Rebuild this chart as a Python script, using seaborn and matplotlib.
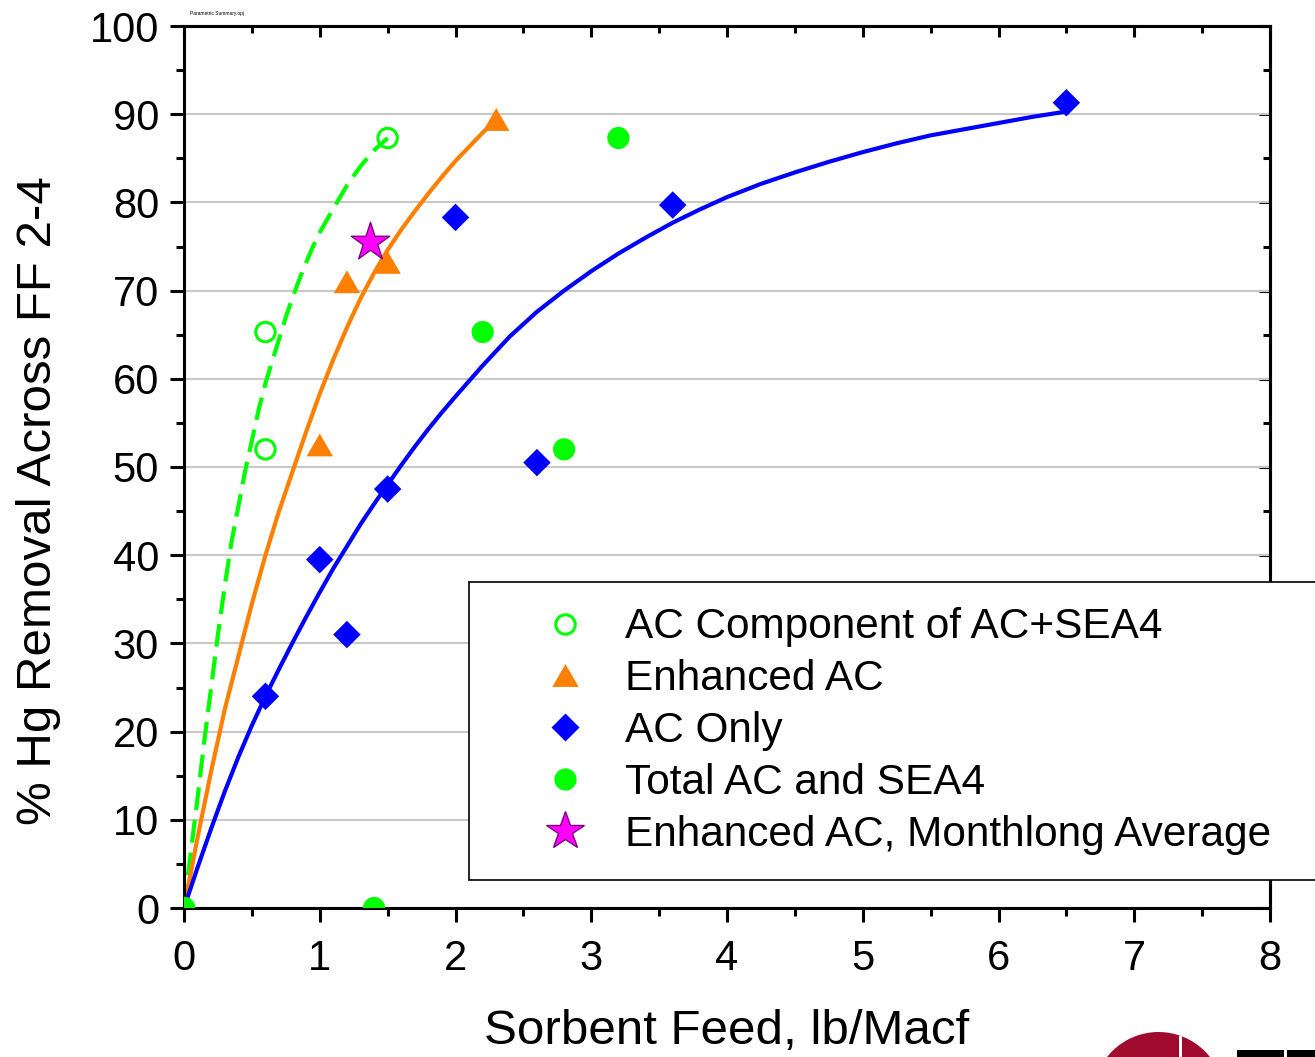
import matplotlib
matplotlib.use("Agg")
import matplotlib.pyplot as plt
import seaborn as sns
import numpy as np
import pandas as pd
from matplotlib.lines import Line2D
from matplotlib.patches import Circle, Rectangle
from matplotlib.transforms import IdentityTransform

ac_comp_x = [0.0, 0.6, 0.6, 1.5]
ac_comp_y = [0.0, 52.0, 65.3, 87.3]
enh_x = [1.0, 1.2, 1.5, 2.3]
enh_y = [52.5, 71.0, 73.2, 89.4]
ac_only_x = [0.6, 1.0, 1.2, 1.5, 2.0, 2.6, 3.6, 6.5]
ac_only_y = [24.0, 39.5, 31.0, 47.5, 78.3, 50.5, 79.7, 91.3]
total_x = [0.0, 1.4, 2.2, 2.8, 3.2]
total_y = [0.0, 0.0, 65.3, 52.0, 87.3]
month_x = [1.37]
month_y = [75.5]

# fitted curves
fit_green_x = [0, 0.05, 0.1, 0.15, 0.2, 0.25, 0.3, 0.35, 0.4, 0.45, 0.5, 0.55, 0.6,
               0.65, 0.7, 0.75, 0.8, 0.85, 0.9, 0.95, 1.0, 1.1, 1.2, 1.3, 1.4, 1.5]
fit_green_y = [0, 6.3, 12.5, 19, 25, 31, 36.5, 41.5, 45.5, 49.5, 53, 56.5, 59.5,
               62, 64.5, 67, 69.2, 71.3, 73.2, 75, 76.6, 79.3, 81.9, 84.1, 85.9, 87.3]
fit_orange_x = [0, 0.1, 0.2, 0.3, 0.4, 0.5, 0.6, 0.7, 0.8, 0.9, 1.0, 1.1, 1.2, 1.3,
                1.4, 1.5, 1.6, 1.7, 1.8, 1.9, 2.0, 2.1, 2.2, 2.3]
fit_orange_y = [0, 8, 15.5, 22.5, 28.5, 34.5, 40, 45, 49.5, 54, 58.3, 62.2, 65.8, 69.1,
                72, 74.6, 76.9, 79, 81, 82.9, 84.7, 86.3, 87.9, 89.4]
fit_blue_x = [0, 0.1, 0.2, 0.3, 0.4, 0.5, 0.6, 0.7, 0.8, 0.9, 1.0, 1.1, 1.2, 1.3, 1.4,
              1.5, 1.6, 1.7, 1.8, 1.9, 2.0, 2.2, 2.4, 2.6, 2.8, 3.0, 3.2, 3.4, 3.6, 3.8,
              4.0, 4.25, 4.5, 4.75, 5.0, 5.25, 5.5, 5.75, 6.0, 6.25, 6.5]
fit_blue_y = [0, 4.6, 9.0, 13.2, 17.1, 20.7, 24.0, 27.1, 30.1, 33.0, 35.8, 38.5, 41.0,
              43.5, 45.8, 48.0, 50.2, 52.3, 54.3, 56.2, 58.0, 61.5, 64.8, 67.6, 70.0,
              72.2, 74.2, 76.0, 77.7, 79.2, 80.6, 82.1, 83.4, 84.6, 85.7, 86.7, 87.6,
              88.3, 89.0, 89.7, 90.3]

labels = ["AC Component of AC+SEA4", "Enhanced AC", "AC Only",
          "Total AC and SEA4", "Enhanced AC, Monthlong Average"]

GREEN = "#00ff00"
ORANGE = "#ff8000"
BLUE = "#0000ff"
MAGENTA = "#ff00ff"

sns.set_style("ticks")
plt.rcParams["font.family"] = ["Liberation Sans", "DejaVu Sans"]
plt.rcParams["axes.linewidth"] = 2.2
for key in ["text.color", "axes.labelcolor", "xtick.color", "ytick.color", "axes.edgecolor"]:
    plt.rcParams[key] = "black"

tri = [(-1, -0.866), (1, -0.866), (0, 0.866), (-1, -0.866)]

fig = plt.figure(figsize=(13.15, 10.57), dpi=100)
ax = fig.add_axes([184 / 1315, 149 / 1057, 1086 / 1315, 882 / 1057])

# fit lines
sns.lineplot(x=fit_green_x, y=fit_green_y, sort=False, estimator=None, ax=ax,
             color=GREEN, linewidth=3, linestyle=(0, (5.5, 2.4)))
sns.lineplot(x=fit_orange_x, y=fit_orange_y, sort=False, estimator=None, ax=ax,
             color=ORANGE, linewidth=3)
sns.lineplot(x=fit_blue_x, y=fit_blue_y, sort=False, estimator=None, ax=ax,
             color=BLUE, linewidth=3)

# points
sns.scatterplot(x=ac_comp_x, y=ac_comp_y, ax=ax, marker="o", s=14 ** 2,
                color=GREEN, facecolor="none", edgecolor=GREEN, linewidth=2.2, zorder=5)
sns.scatterplot(x=enh_x, y=enh_y, ax=ax, marker=tri, s=19 ** 2,
                color=ORANGE, edgecolor="none", zorder=5)
sns.scatterplot(x=ac_only_x, y=ac_only_y, ax=ax, marker="D", s=14 ** 2,
                color=BLUE, edgecolor="none", zorder=5)
sns.scatterplot(x=total_x, y=total_y, ax=ax, marker="o", s=16 ** 2,
                color=GREEN, edgecolor="none", zorder=5)
sns.scatterplot(x=month_x, y=month_y, ax=ax, marker="*", s=29 ** 2,
                color=MAGENTA, edgecolor="#800080", linewidth=1, zorder=6)

ax.set_xlim(0, 8)
ax.set_ylim(0, 100)
ax.set_xticks(np.arange(0, 9, 1))
ax.set_xticks(np.arange(0, 8.01, 0.5), minor=True)
ax.set_yticks(np.arange(0, 101, 10))
ax.set_yticks(np.arange(0, 100.1, 5), minor=True)
ax.yaxis.grid(True, which="major", color="#c8c8c8", linewidth=1.5)
ax.xaxis.grid(False)
ax.set_axisbelow(True)
for sp in ax.spines.values():
    sp.set_visible(True)
    sp.set_linewidth(2.2)
    sp.set_color("black")

ax.tick_params(axis="both", which="major", direction="out", length=10, width=2.2,
               labelsize=30, top=False, right=False, colors="black")
ax.tick_params(axis="both", which="minor", direction="out", length=6, width=2.2,
               top=False, right=False, colors="black")
ax.tick_params(axis="x", which="major", pad=12)
ax.tick_params(axis="y", which="major", pad=8)

# inward ticks on top and right
sec_x = ax.secondary_xaxis("top")
sec_x.set_xticks(np.arange(0, 9, 1))
sec_x.set_xticks(np.arange(0, 8.01, 0.5), minor=True)
sec_x.tick_params(which="major", direction="in", length=8, width=2.2, labeltop=False)
sec_x.tick_params(which="minor", direction="in", length=5, width=2.2)
sec_y = ax.secondary_yaxis("right")
sec_y.set_yticks(np.arange(0, 101, 10))
sec_y.set_yticks(np.arange(0, 100.1, 5), minor=True)
sec_y.tick_params(which="major", direction="in", length=8, width=2.2, labelright=False)
sec_y.tick_params(which="minor", direction="in", length=5, width=2.2)

ax.set_xlabel("Sorbent Feed, lb/Macf", fontsize=35.5, color="black")
ax.xaxis.set_label_coords(0.5, -0.115)
ax.set_ylabel("% Hg Removal Across FF 2-4", fontsize=35.5, color="black")
ax.yaxis.label.set_va("center")
ax.yaxis.set_label_coords(-0.1344, (908 - 501) / 882)

handles = [
    Line2D([], [], ls="none", marker="o", ms=14, mfc="none", mec=GREEN, mew=2.2),
    Line2D([], [], ls="none", marker=tri, ms=19, mfc=ORANGE, mec="none"),
    Line2D([], [], ls="none", marker="D", ms=14, mfc=BLUE, mec="none"),
    Line2D([], [], ls="none", marker="o", ms=16, mfc=GREEN, mec="none"),
    Line2D([], [], ls="none", marker="*", ms=29, mfc=MAGENTA, mec="#800080", mew=1),
]
leg = ax.legend(handles, labels, loc="upper left", mode="expand",
                bbox_to_anchor=(469 / 1315, (1057 - 876) / 1057,
                                (1345 - 469) / 1315, (876 - 582) / 1057),
                bbox_transform=fig.transFigure,
                borderaxespad=0, fontsize=30.5, frameon=True, fancybox=False,
                framealpha=1, edgecolor="black", borderpad=0.6, labelspacing=0.28,
                handlelength=3.33, handletextpad=-0.25, labelcolor="black")
leg.get_frame().set_linewidth(1.2)
leg.set_zorder(10)

fig.text(190 / 1315, 1 - 13 / 1057, "Parametric Summary.opj", fontsize=3.5,
         va="center", ha="left")

# logo fragment at the bottom right
fig.patches.append(Circle((1158.5, -40.5), 65.5, transform=IdentityTransform(),
                          facecolor="#9e0b2f", edgecolor="none"))
fig.patches.append(Rectangle((1179, 0), 3, 21, transform=IdentityTransform(),
                             facecolor="white", edgecolor="none"))
fig.patches.append(Rectangle((1237, 0), 78, 7, transform=IdentityTransform(),
                             facecolor="black", edgecolor="none"))
fig.patches.append(Rectangle((1284, 0), 3, 7, transform=IdentityTransform(),
                             facecolor="white", edgecolor="none"))

fig.savefig("out.png", dpi=100)
